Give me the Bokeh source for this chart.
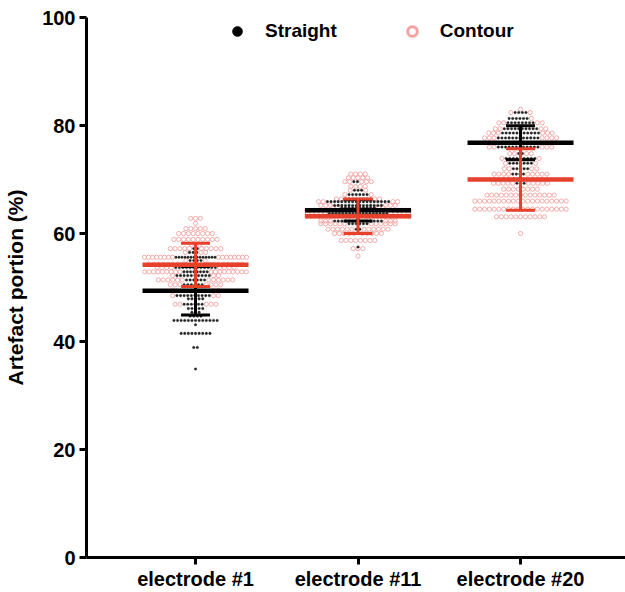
import numpy as np
from bokeh.plotting import figure
from bokeh.models import Range1d, FixedTicker, Legend, LegendItem
from bokeh.embed import file_html
from bokeh.resources import INLINE

# ---------------- data ----------------
categories = ["electrode #1", "electrode #11", "electrode #20"]
series_names = ["Straight", "Contour"]

# rows of artefact-portion values (%) with the number of points per series
e1_values = [62.8, 61.9, 60.9, 60.0, 58.9, 58.0, 57.2, 56.5, 55.6, 55.0, 54.3, 53.7, 52.9, 52.2,
             51.4, 50.5, 49.5, 48.5, 47.9, 46.9, 46.1, 45.4, 44.7, 43.9, 43.1, 41.5, 38.9, 34.9]
e1_straight = [0, 0, 0, 0, 0, 1, 2, 3, 14, 4, 6, 12, 8, 10, 6, 6, 10, 10, 5, 6, 5, 3, 4, 13, 1, 9, 2, 1]
e1_contour = [3, 1, 5, 8, 10, 2, 10, 3, 16, 2, 16, 8, 18, 3, 12, 7, 3, 3, 0, 5, 0, 0, 0, 0, 0, 0, 0, 0]

e2_values = [71.0, 70.3, 69.6, 68.7, 68.0, 67.2, 66.4, 65.9, 65.2, 64.8, 64.3, 63.7, 63.2, 62.3,
             61.8, 60.8, 60.0, 58.7, 57.5, 57.2, 55.8]
e2_straight = [0, 0, 2, 0, 3, 6, 8, 18, 14, 10, 28, 18, 4, 14, 6, 2, 1, 0, 1, 0, 0]
e2_contour = [4, 5, 5, 4, 2, 2, 4, 4, 6, 4, 8, 10, 24, 6, 12, 12, 10, 8, 0, 3, 1]

e3_values = [83.0, 82.4, 81.3, 80.5, 79.4, 78.6, 77.7, 76.8, 76.0, 74.8, 73.9, 73.0, 72.0, 71.0,
             70.0, 69.3, 68.2, 67.1, 66.0, 64.5, 63.1, 60.0]
e3_straight = [0, 4, 6, 8, 10, 11, 12, 16, 12, 2, 9, 7, 5, 4, 0, 3, 0, 0, 0, 0, 0, 0]
e3_contour = [1, 2, 1, 4, 4, 6, 7, 4, 5, 4, 2, 2, 4, 9, 12, 10, 8, 15, 20, 20, 11, 1]

# mean and SD per electrode
straight_mean = [49.4, 64.3, 76.8]
straight_sd = [4.5, 2.0, 3.15]
contour_mean = [54.2, 63.2, 70.0]
contour_sd = [4.0, 3.2, 5.7]

y_ticks = [0, 20, 40, 60, 80, 100]

# ---------------- styling ----------------
FONT = "Liberation Sans"
BLACK_DOT = "#262626"
PINK = "#F2A3A3"
RED = "#E5412D"

X_START, X_END = 0.329, 3.646
FIG_W, FIG_H = 625, 592
BORDER_L, BORDER_R, BORDER_T, BORDER_B = 86, 0, 17, 34
PX_PER_UNIT = (FIG_W - BORDER_L - BORDER_R) / (X_END - X_START)

BLACK_STEP = 3.6   # px between black dots in a row
PINK_STEP = 4.8    # px between pink circles in a row
MAX_SPREAD = 106   # px, max width of a row

MEAN_HALF = 53 / PX_PER_UNIT
CAP_HALF = 14.5 / PX_PER_UNIT


def swarm(values, n_black, n_pink, center):
    bx, by, cx, cy = [], [], [], []
    for v, nb, nc in zip(values, n_black, n_pink):
        left = nc // 2
        kinds = ["c"] * left + ["s"] * nb + ["c"] * (nc - left)
        if not kinds:
            continue
        widths = np.array([PINK_STEP if k == "c" else BLACK_STEP for k in kinds])
        total = widths.sum()
        scale = min(1.0, MAX_SPREAD / total)
        offs = (np.cumsum(widths) - widths / 2 - total / 2) * scale
        for k, o in zip(kinds, offs):
            if k == "s":
                bx.append(center + o / PX_PER_UNIT)
                by.append(v)
            else:
                cx.append(center + o / PX_PER_UNIT)
                cy.append(v)
    return bx, by, cx, cy


sx, sy, cx, cy = [], [], [], []
for i, (vals, nb, nc) in enumerate([(e1_values, e1_straight, e1_contour),
                                     (e2_values, e2_straight, e2_contour),
                                     (e3_values, e3_straight, e3_contour)]):
    a, b, c, d = swarm(vals, nb, nc, i + 1)
    sx += a; sy += b; cx += c; cy += d

p = figure(width=FIG_W, height=FIG_H, x_range=Range1d(X_START, X_END), y_range=Range1d(0, 100),
           output_backend="svg", toolbar_location=None,
           min_border_left=BORDER_L, min_border_right=BORDER_R,
           min_border_top=BORDER_T, min_border_bottom=BORDER_B)
p.outline_line_color = None
p.xgrid.grid_line_color = None
p.ygrid.grid_line_color = None
p.background_fill_color = "white"
p.border_fill_color = "white"

# points
p.scatter(cx, cy, marker="circle", size=4.2, fill_color=None, line_color=PINK, line_width=0.9)
p.scatter(sx, sy, marker="circle", size=2.6, fill_color=BLACK_DOT, line_color=BLACK_DOT, line_width=0.3)

xs = np.arange(1, len(categories) + 1)


def draw_stats(mean, sd, color):
    mean = np.array(mean); sd = np.array(sd)
    p.segment(xs, mean - sd, xs, mean + sd, line_color=color, line_width=3)
    p.segment(xs - CAP_HALF, mean + sd, xs + CAP_HALF, mean + sd, line_color=color, line_width=3)
    p.segment(xs - CAP_HALF, mean - sd, xs + CAP_HALF, mean - sd, line_color=color, line_width=3)
    p.segment(xs - MEAN_HALF, mean, xs + MEAN_HALF, mean, line_color=color, line_width=4.5)


draw_stats(straight_mean, straight_sd, "black")
draw_stats(contour_mean, contour_sd, RED)

# axes
p.xaxis.ticker = FixedTicker(ticks=list(xs))
p.xaxis.major_label_overrides = {int(k): lab for k, lab in zip(xs, categories)}
p.yaxis.ticker = FixedTicker(ticks=y_ticks)
p.yaxis.axis_label = "Artefact portion (%)"
for ax in (p.xaxis[0], p.yaxis[0]):
    ax.axis_line_width = 3
    ax.axis_line_color = "black"
    ax.major_tick_line_width = 3
    ax.major_tick_line_color = "black"
    ax.major_tick_out = 7
    ax.major_tick_in = 0
    ax.minor_tick_line_color = None
    ax.major_label_text_font = FONT
    ax.major_label_text_font_style = "bold"
    ax.major_label_text_font_size = "20px"
    ax.major_label_text_color = "black"
p.xaxis.major_label_standoff = 3
p.yaxis.major_label_standoff = 4
p.yaxis.axis_label_text_font = FONT
p.yaxis.axis_label_text_font_style = "bold"
p.yaxis.axis_label_text_font_size = "21px"
p.yaxis.axis_label_text_color = "black"
p.yaxis.axis_label_standoff = 12

# legend (placeholder renderers with NaN data just to carry the legend glyph style)
leg_s = p.scatter(x=[np.nan], y=[np.nan], marker="circle", fill_color="black", line_color="black")
leg_c = p.scatter(x=[np.nan], y=[np.nan], marker="circle", fill_color=None, line_color=PINK, line_width=3)
legend = Legend(items=[LegendItem(label=series_names[0], renderers=[leg_s]),
                       LegendItem(label=series_names[1], renderers=[leg_c])],
                orientation="horizontal", location=(139, 514),
                glyph_width=24, glyph_height=24, label_standoff=16, spacing=63,
                padding=0, margin=0, border_line_color=None, background_fill_alpha=0,
                label_text_font=FONT, label_text_font_style="bold", label_text_font_size="19px",
                label_text_color="black")
p.add_layout(legend)

open("out.html", "w").write(file_html(p, INLINE))
